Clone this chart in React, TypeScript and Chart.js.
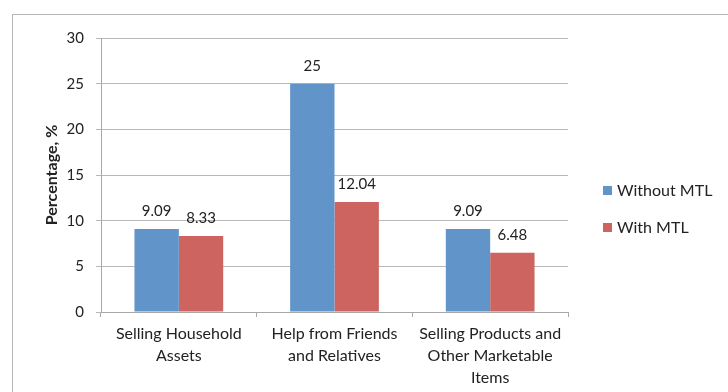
import React, { useEffect, useRef } from "react";
import { Chart, registerables } from "chart.js";

Chart.register(...registerables);

const categories: string[][] = [
  ["Selling Household", "Assets"],
  ["Help from Friends", "and Relatives"],
  ["Selling Products and", "Other Marketable", "Items"],
];
const seriesNames = ["Without MTL", "With MTL"];
const withoutMTL = [9.09, 25, 9.09];
const withMTL = [8.33, 12.04, 6.48];
const yMin = 0;
const yMax = 30;
const yStep = 5;
const yTitle = "Percentage, %";

const BLUE = "#6195CA";
const RED = "#CD645F";
const TEXT = "#222222";
const FONT = "Lato";

const framePlugin = {
  id: "frame",
  beforeDraw(chart: any) {
    const ctx = chart.ctx;
    ctx.save();
    ctx.fillStyle = "#ffffff";
    ctx.fillRect(0, 0, chart.width, chart.height);
    ctx.strokeStyle = "#b5b5b5";
    ctx.lineWidth = 1;
    ctx.strokeRect(12.5, 14.5, chart.width + 20, chart.height + 20);
    ctx.restore();
  },
};

const valueLabelPlugin = {
  id: "valueLabels",
  afterDatasetsDraw(chart: any) {
    const ctx = chart.ctx;
    ctx.save();
    ctx.font = `15px ${FONT}`;
    ctx.fillStyle = TEXT;
    ctx.textAlign = "center";
    ctx.textBaseline = "middle";
    chart.data.datasets.forEach((ds: any, i: number) => {
      const meta = chart.getDatasetMeta(i);
      meta.data.forEach((el: any, j: number) => {
        ctx.fillText(String(ds.data[j]), el.x, el.y - 18);
      });
    });
    ctx.restore();
  },
};

const legendPlugin = {
  id: "customLegend",
  afterDraw(chart: any) {
    const ctx = chart.ctx;
    ctx.save();
    ctx.font = `16px ${FONT}`;
    ctx.textBaseline = "middle";
    ctx.textAlign = "left";
    chart.data.datasets.forEach((ds: any, i: number) => {
      const y = 191 + i * 37;
      ctx.fillStyle = ds.backgroundColor;
      ctx.fillRect(603, y - 5, 9, 9);
      ctx.fillStyle = TEXT;
      ctx.fillText(ds.label, 617, y);
    });
    ctx.restore();
  },
};

export default function App() {
  const ref = useRef<HTMLCanvasElement>(null);

  useEffect(() => {
    if (!ref.current) return;
    const chart = new Chart(ref.current, {
      type: "bar",
      data: {
        labels: categories,
        datasets: [
          { label: seriesNames[0], data: withoutMTL, backgroundColor: BLUE },
          { label: seriesNames[1], data: withMTL, backgroundColor: RED },
        ],
      },
      options: {
        responsive: false,
        animation: false,
        devicePixelRatio: 1,
        layout: { padding: { top: 38, right: 160, left: 0, bottom: 0 } },
        datasets: {
          bar: { barPercentage: 1, categoryPercentage: 0.57 },
        },
        plugins: {
          legend: { display: false },
          tooltip: { enabled: false },
        },
        scales: {
          x: {
            afterFit: (s: any) => {
              s.height = 80;
            },
            grid: {
              display: true,
              drawOnChartArea: false,
              drawTicks: true,
              tickLength: 5,
              color: "#a8a8a8",
              offset: true,
            },
            border: { display: true, color: "#a8a8a8" },
            ticks: {
              color: TEXT,
              font: { family: FONT, size: 16, lineHeight: 1.38 },
              padding: 6,
              maxRotation: 0,
              autoSkip: false,
            },
          },
          y: {
            min: yMin,
            max: yMax,
            afterFit: (s: any) => {
              s.width = 101;
            },
            ticks: {
              stepSize: yStep,
              color: TEXT,
              font: { family: FONT, size: 15 },
              padding: 12,
            },
            grid: {
              color: "#b8b8b8",
              tickLength: 5,
              drawTicks: true,
            },
            border: { display: true, color: "#a8a8a8" },
            title: {
              display: true,
              text: yTitle,
              color: TEXT,
              font: { family: FONT, size: 16, weight: "bold" },
              padding: { top: 42, bottom: 0 },
            },
          },
        },
      },
      plugins: [framePlugin, valueLabelPlugin, legendPlugin],
    });
    return () => chart.destroy();
  }, []);

  return (
    <div style={{ position: "absolute", left: 0, top: 0, width: 728, height: 392 }}>
      <canvas ref={ref} width={728} height={392} style={{ display: "block" }} />
    </div>
  );
}
